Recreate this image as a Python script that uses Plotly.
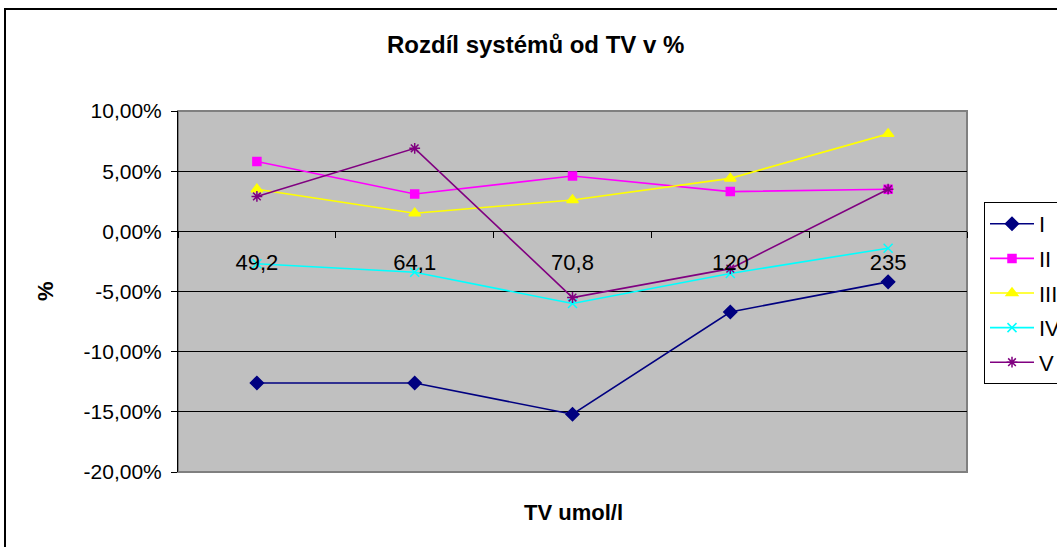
import plotly.graph_objects as go

categories = ["49,2", "64,1", "70,8", "120", "235"]
series_names = ["I", "II", "III", "IV", "V"]
s_I = [-0.126, -0.126, -0.152, -0.067, -0.042]
s_II = [0.058, 0.031, 0.046, 0.033, 0.035]
s_III = [0.035, 0.015, 0.026, 0.044, 0.081]
s_IV = [-0.027, -0.034, -0.060, -0.035, -0.014]
s_V = [0.029, 0.069, -0.055, -0.031, 0.035]
y_tickvals = [0.10, 0.05, 0.0, -0.05, -0.10, -0.15, -0.20]
y_ticktext = ["10,00%", "5,00%", "0,00%", "-5,00%", "-10,00%", "-15,00%", "-20,00%"]

title_text = "Rozdíl systémů od TV v %"
x_title = "TV umol/l"
y_title = "%"

W, H = 1057, 547
L, R, T, B = 178, 967, 111, 472

def px(xp):
    return (xp - L) / (R - L)

def py(yp):
    return (B - yp) / (B - T)

styles = [
    dict(color="#000080", symbol="diamond", size=10),
    dict(color="#FF00FF", symbol="square", size=8),
    dict(color="#FFFF00", symbol="triangle-up", size=10),
    dict(color="#00FFFF", symbol="x-thin-open", size=9),
    dict(color="#800080", symbol="asterisk-open", size=9),
]
all_series = [s_I, s_II, s_III, s_IV, s_V]

fig = go.Figure()
for name, vals, st in zip(series_names, all_series, styles):
    fig.add_trace(go.Scatter(
        x=categories, y=vals, name=name, mode="lines+markers",
        legendgroup=name,
        line=dict(color=st["color"], width=1.6),
        marker=dict(symbol=st["symbol"], size=st["size"], color=st["color"],
                    line=dict(color=st["color"], width=1.5)),
    ))

font_family = "Liberation Sans, Arial, sans-serif"

fig.update_layout(
    width=W, height=H,
    margin=dict(l=L, r=W - R, t=T, b=H - B, autoexpand=False),
    paper_bgcolor="white",
    plot_bgcolor="#C0C0C0",
    separators=",.",
    font=dict(family=font_family, color="black", size=20),
    showlegend=True,
    legend=dict(
        x=px(984), y=py(202), xanchor="left", yanchor="top",
        bgcolor="white", bordercolor="black", borderwidth=1,
        font=dict(size=22, family=font_family),
        traceorder="grouped", tracegroupgap=3,
        itemwidth=44,
    ),
    xaxis=dict(
        type="category", range=[-0.5, 4.5],
        anchor="free", position=py(231),
        showline=True, linecolor="black", linewidth=1,
        ticks="outside", ticklen=6, tickcolor="black", tickson="boundaries",
        showgrid=False, zeroline=False,
        tickfont=dict(size=22, family=font_family),
        ticklabelstandoff=12,
    ),
    yaxis=dict(
        range=[-0.2, 0.1],
        tickvals=y_tickvals, ticktext=y_ticktext,
        showline=True, linecolor="black", linewidth=1,
        ticks="outside", ticklen=6, tickcolor="black",
        showgrid=True, gridcolor="black", gridwidth=1,
        zeroline=False,
        tickfont=dict(size=21, family=font_family),
        ticklabelstandoff=5,
    ),
    shapes=[
        dict(type="rect", xref="paper", yref="paper", x0=0, x1=1, y0=0, y1=1,
             line=dict(color="#808080", width=2), layer="below"),
        dict(type="rect", xref="paper", yref="paper",
             x0=px(5), x1=px(1200), y0=py(700), y1=py(9),
             line=dict(color="black", width=2)),
    ],
    annotations=[
        dict(text="<b>" + title_text + "</b>", xref="paper", yref="paper",
             x=px(535), y=py(44), showarrow=False,
             font=dict(size=24, family=font_family), xanchor="center", yanchor="middle"),
        dict(text="<b>" + x_title + "</b>", xref="paper", yref="paper",
             x=px(573), y=py(512), showarrow=False,
             font=dict(size=22, family=font_family), xanchor="center", yanchor="middle"),
        dict(text="<b>" + y_title + "</b>", xref="paper", yref="paper",
             x=px(45), y=py(291), showarrow=False, textangle=-90,
             font=dict(size=22, family=font_family), xanchor="center", yanchor="middle"),
    ],
)

fig.write_html(
    "out.html",
    config={"displayModeBar": False},
    post_script="document.body.style.margin='0';document.body.style.overflow='hidden';",
)
